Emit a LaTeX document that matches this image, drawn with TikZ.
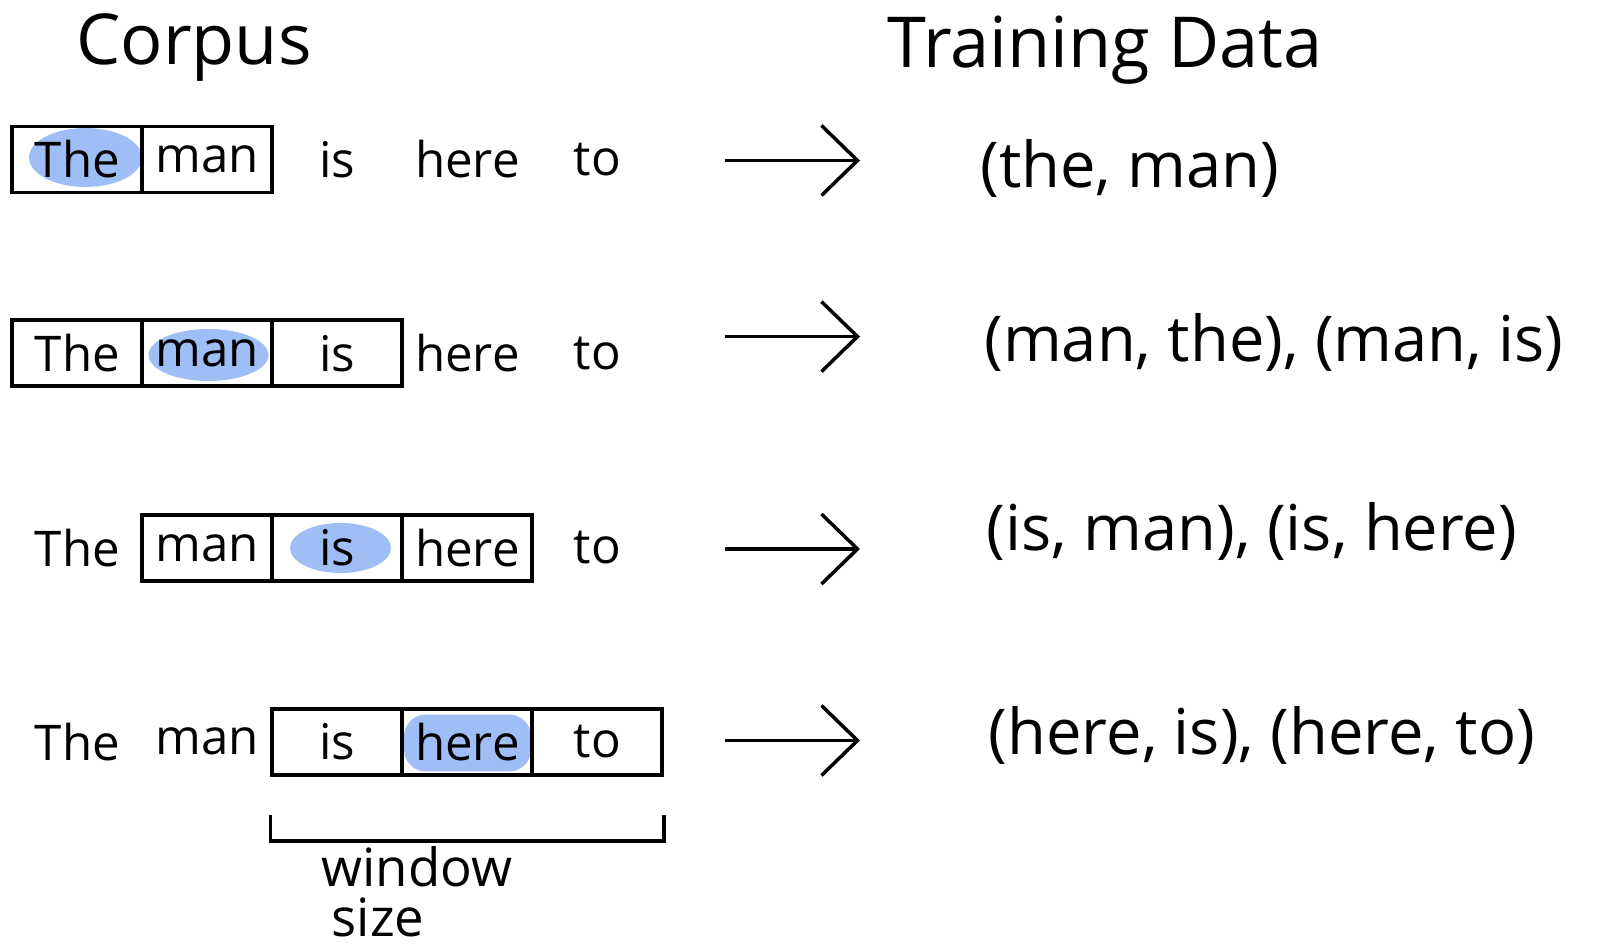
\documentclass[tikz,border=0pt]{standalone}
\usepackage{fontspec}
\setmainfont{Open Sans}
\usetikzlibrary{arrows.meta}
\definecolor{blobblue}{RGB}{158,190,245}

\begin{document}
\begin{tikzpicture}[
		word/.style={minimum width=1.3cm, minimum height=0.66cm, inner sep=0pt, font=\fontsize{14}{16}\selectfont},
		cell/.style={word, draw, line width=1.1pt},
		pair/.style={font=\fontsize{18}{20}\selectfont},
		head/.style={font=\fontsize{20}{22}\selectfont},
		note/.style={font=\fontsize{15}{14}\selectfont, inner sep=0pt, align=center, anchor=base},
		bigarrow/.style={line width=1pt, -{Straight Barb[length=0.36cm, width=0.7cm, line width=1pt]}},
		blob/.style={fill=blobblue}
	]
		\useasboundingbox (0,0) rectangle (16.24,-9.5);
		\node (corpus)at (1.94, -0.47)[head]  {Corpus};
		\node (training)at (11.05, -0.5)[head]  {Training Data};
		% row 1
		\fill [blob](0.855, -1.575) ellipse [x radius=0.565, y radius=0.295];
		\node (the1)at (0.774, -1.595)[cell]  {The};
		\node (man1)at (2.074, -1.595)[cell]  {man};
		\node (is1)at (3.374, -1.595)[word]  {is};
		\node (here1)at (4.674, -1.595)[word]  {here};
		\node (to1)at (5.974, -1.595)[word]  {to};
		% row 2
		\fill [blob](2.085, -3.55) ellipse [x radius=0.6, y radius=0.26];
		\node (the2)at (0.774, -3.532)[cell]  {The};
		\node (man2)at (2.074, -3.532)[cell]  {man};
		\node (is2)at (3.374, -3.532)[cell]  {is};
		\node (here2)at (4.674, -3.532)[word]  {here};
		\node (to2)at (5.974, -3.532)[word]  {to};
		% row 3
		\fill [blob](3.405, -5.48) ellipse [x radius=0.505, y radius=0.25];
		\node (the3)at (0.774, -5.479)[word]  {The};
		\node (man3)at (2.074, -5.479)[cell]  {man};
		\node (is3)at (3.374, -5.479)[cell]  {is};
		\node (here3)at (4.674, -5.479)[cell]  {here};
		\node (to3)at (5.974, -5.479)[word]  {to};
		% row 4
		\fill [blob, rounded corners=0.22cm](4.04, -7.145) rectangle (5.31, -7.715);
		\node (the4)at (0.774, -7.416)[word]  {The};
		\node (man4)at (2.074, -7.416)[word]  {man};
		\node (is4)at (3.374, -7.416)[cell]  {is};
		\node (here4)at (4.674, -7.416)[cell]  {here};
		\node (to4)at (5.974, -7.416)[cell]  {to};
		% window
		\draw [line width=1.1pt]([yshift=-0.38cm]is4.south west)--([yshift=-0.645cm]is4.south west)--([yshift=-0.645cm]to4.south east)--([yshift=-0.38cm]to4.south east);
		\node (window)at (4.17, -9.36)[note]  {window\\\hspace*{-0.78cm}size};
		% training pairs
		\node (pair1)at (11.3, -1.68)[pair]  {(the, man)};
		\node (pair2)at (12.74, -3.42)[pair]  {(man, the), (man, is)};
		\node (pair3)at (12.52, -5.31)[pair]  {(is, man), (is, here)};
		\node (pair4)at (12.62, -7.35)[pair]  {(here, is), (here, to)};
		\coordinate (a1)at (7.25, -1.605);
		\coordinate (b1)at (8.6, -1.605);
		\coordinate (a2)at (7.25, -3.366);
		\coordinate (b2)at (8.6, -3.366);
		\coordinate (a3)at (7.25, -5.49);
		\coordinate (b3)at (8.6, -5.49);
		\coordinate (a4)at (7.25, -7.405);
		\coordinate (b4)at (8.6, -7.405);
		\draw [bigarrow](a1)--(b1);
		\draw [bigarrow](a2)--(b2);
		\draw [bigarrow](a3)--(b3);
		\draw [bigarrow](a4)--(b4);
	\end{tikzpicture}
\end{document}
